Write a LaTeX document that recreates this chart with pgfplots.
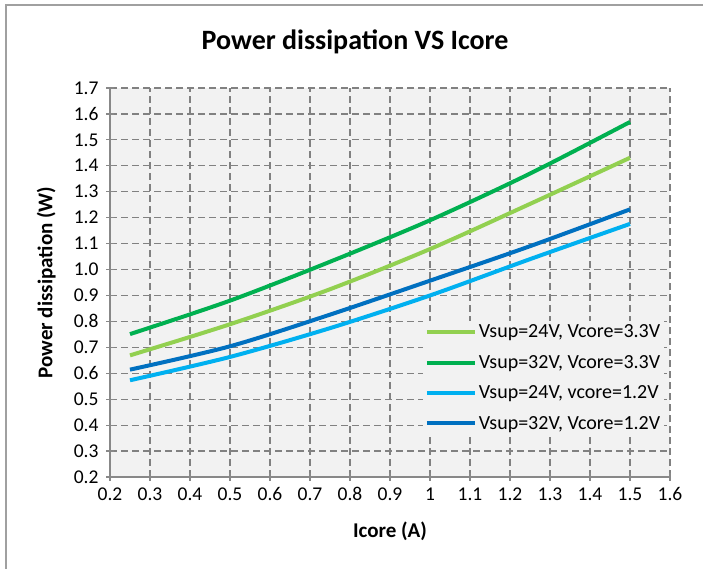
\documentclass[border=0pt]{standalone}
\usepackage{pgfplots}
\pgfplotsset{compat=1.18}
\usepackage{fontspec}
\setmainfont{Carlito}
\definecolor{lgreen}{HTML}{92D050}
\definecolor{dgreen}{HTML}{00B050}
\definecolor{lblue}{HTML}{00B0F0}
\definecolor{dblue}{HTML}{0070C0}
\definecolor{gridgray}{HTML}{888888}
\definecolor{bgc}{HTML}{F2F2F2}
\begin{document}
\begin{tikzpicture}[x=1pt,y=1pt]
\useasboundingbox (0,0) rectangle (703,569);
\draw[gridgray!80, line width=1.2pt] (6,0) -- (6,564) -- (703,564);
\node[font=\fontsize{28}{32}\selectfont\bfseries] at (355,527) {Power dissipation VS Icore};
\begin{axis}[
  at={(110pt,92pt)}, anchor=south west,
  scale only axis, width=560pt, height=389pt,
  xmin=0.2, xmax=1.6, ymin=0.2, ymax=1.7,
  xtick={0.2,0.3,0.4,0.5,0.6,0.7,0.8,0.9,1.0,1.1,1.2,1.3,1.4,1.5,1.6},
  ytick={0.2,0.3,0.4,0.5,0.6,0.7,0.8,0.9,1.0,1.1,1.2,1.3,1.4,1.5,1.6,1.7},
  /pgf/number format/assume math mode=true,
  xticklabel style={/pgf/number format/fixed, /pgf/number format/precision=1, yshift=-3pt},
  yticklabel style={/pgf/number format/fixed, /pgf/number format/fixed zerofill, /pgf/number format/precision=1, xshift=-4pt},
  ticklabel style={font=\fontsize{19.5}{22}\selectfont, text=black},
  axis x line=bottom, axis y line=left,
  axis line style={gridgray, line width=1.3pt, -},
  tick style={gridgray, line width=1.2pt},
  tick align=center, major tick length=8pt,
  grid=major,
  major grid style={gridgray!95!black, line width=1.2pt, dash pattern=on 7pt off 4pt},
  axis background/.style={fill=bgc},
  xlabel={Icore (A)}, ylabel={Power dissipation (W)},
  label style={font=\fontsize{21}{24}\selectfont\bfseries},
  xlabel style={at={(axis description cs:0.5,-0.139)}, anchor=center},
  ylabel style={at={(axis description cs:-0.114,0.5)}, anchor=center},
  legend style={at={(0.99,0.402)}, anchor=north east, fill=bgc, draw=none,
    font=\fontsize{20}{22}\selectfont, row sep=12pt, inner sep=2pt},
  legend cell align=left,
  legend image code/.code={\draw[#1, line width=4pt] (0pt,0pt) -- (48pt,0pt);},
  every axis plot/.append style={line width=4pt, smooth, no marks},
]
\addplot[lgreen] coordinates {(0.25,0.669) (0.5,0.789) (0.75,0.924) (1.0,1.079) (1.25,1.253) (1.5,1.431)};
\addlegendentry{Vsup=24V, Vcore=3.3V}
\addplot[dgreen] coordinates {(0.25,0.751) (0.5,0.880) (0.75,1.030) (1.0,1.190) (1.25,1.370) (1.5,1.569)};
\addlegendentry{Vsup=32V, Vcore=3.3V}
\addplot[lblue] coordinates {(0.25,0.573) (0.5,0.663) (0.75,0.774) (1.0,0.900) (1.25,1.040) (1.5,1.176)};
\addlegendentry{Vsup=24V, vcore=1.2V}
\addplot[dblue] coordinates {(0.25,0.614) (0.5,0.704) (0.75,0.826) (1.0,0.957) (1.25,1.090) (1.5,1.232)};
\addlegendentry{Vsup=32V, Vcore=1.2V}
\end{axis}
\end{tikzpicture}
\end{document}
